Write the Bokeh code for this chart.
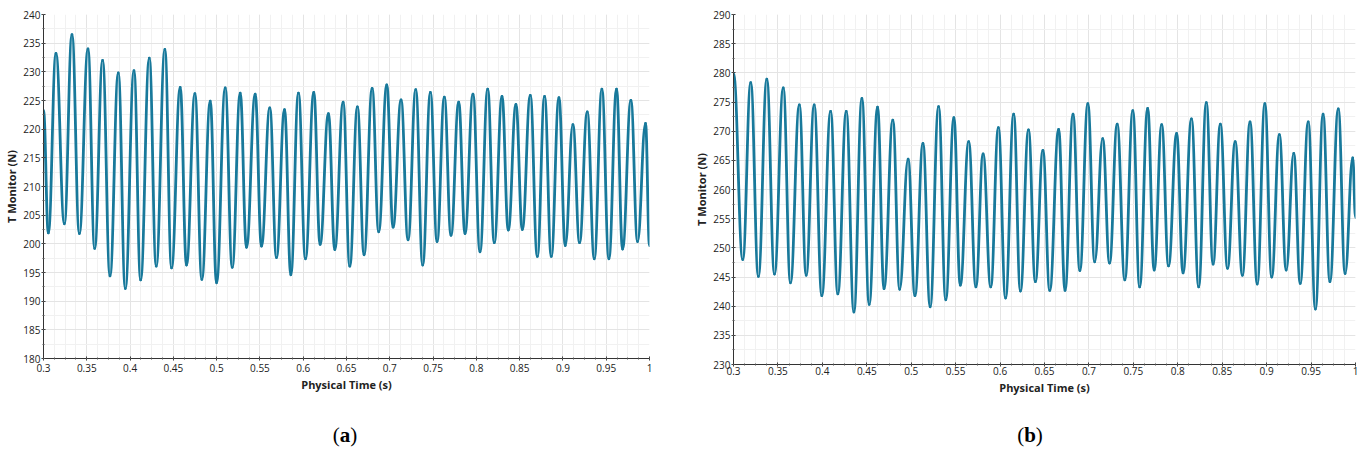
import numpy as np
from bokeh.plotting import figure
from bokeh.models import Range1d, SingleIntervalTicker, NumeralTickFormatter, Div
from bokeh.layouts import column, row
from bokeh.embed import file_html
from bokeh.resources import INLINE

# ---- data: (a) extrema of T Monitor (N) vs Physical Time (s) ----
a_time = [0.300, 0.3056, 0.3144, 0.3241, 0.3329, 0.3414, 0.3514, 0.3591, 0.3683, 0.3768,
          0.3864, 0.3945, 0.4045, 0.4122, 0.4222, 0.4302, 0.4402, 0.4479, 0.4579, 0.4652,
          0.4749, 0.4829, 0.4926, 0.4999, 0.5099, 0.5180, 0.5272, 0.5345, 0.5445, 0.5518,
          0.5614, 0.5691, 0.5784, 0.5857, 0.5945, 0.6026, 0.6122, 0.6195, 0.6291, 0.6365,
          0.6461, 0.6538, 0.6626, 0.6703, 0.6796, 0.6872, 0.6965, 0.7038, 0.7130, 0.7211,
          0.7300, 0.7380, 0.7469, 0.7546, 0.7630, 0.7707, 0.7796, 0.7869, 0.7961, 0.8042,
          0.8131, 0.8207, 0.8296, 0.8369, 0.8457, 0.8531, 0.8623, 0.8704, 0.8788, 0.8865,
          0.8954, 0.9027, 0.9115, 0.9192, 0.9281, 0.9362, 0.9450, 0.9531, 0.9619, 0.9689,
          0.9785, 0.9862, 0.9954, 1.000]
a_force = [223.3, 201.9, 233.2, 203.5, 236.5, 201.8, 234.0, 199.2, 232.0, 194.4,
           229.8, 192.2, 230.2, 193.7, 232.4, 196.1, 233.9, 195.8, 227.3, 196.3,
           226.2, 193.8, 224.9, 193.2, 227.2, 195.9, 226.3, 199.4, 226.1, 199.6,
           223.7, 197.6, 223.4, 194.6, 226.3, 197.4, 226.4, 199.9, 222.7, 199.0,
           224.7, 196.1, 223.9, 198.1, 227.1, 202.1, 227.7, 202.9, 225.1, 200.7,
           226.9, 196.3, 226.4, 200.4, 225.6, 201.5, 224.7, 201.8, 226.1, 198.6,
           227.0, 200.2, 225.7, 202.4, 224.3, 202.5, 225.9, 197.8, 225.7, 197.8,
           225.5, 199.7, 220.8, 200.2, 223.0, 197.4, 227.0, 197.4, 227.0, 199.1,
           225.0, 200.4, 221.0, 199.7]

# ---- data: (b) extrema of T Monitor (N) vs Physical Time (s) ----
b_time = [0.300, 0.3104, 0.3194, 0.3280, 0.3375, 0.3461, 0.3560, 0.3641, 0.3741, 0.3818,
          0.3908, 0.3994, 0.4093, 0.4174, 0.4269, 0.4355, 0.4445, 0.4527, 0.4621, 0.4694,
          0.4793, 0.4870, 0.4965, 0.5042, 0.5132, 0.5213, 0.5308, 0.5389, 0.5480, 0.5552,
          0.5647, 0.5728, 0.5809, 0.5895, 0.5981, 0.6062, 0.6153, 0.6229, 0.6320, 0.6397,
          0.6482, 0.6559, 0.6659, 0.6731, 0.6821, 0.6898, 0.6988, 0.7065, 0.7155, 0.7232,
          0.7318, 0.7404, 0.7494, 0.7571, 0.7661, 0.7734, 0.7819, 0.7896, 0.7987, 0.8059,
          0.8154, 0.8235, 0.8321, 0.8397, 0.8479, 0.8560, 0.8646, 0.8727, 0.8813, 0.8894,
          0.8980, 0.9057, 0.9143, 0.9220, 0.9305, 0.9378, 0.9468, 0.9549, 0.9635, 0.9712,
          0.9806, 0.9883, 0.9969, 1.000]
b_force = [279.9, 248.0, 278.3, 245.1, 278.9, 245.5, 277.4, 244.0, 274.5, 245.3,
           274.5, 241.8, 273.4, 242.1, 273.4, 239.0, 275.6, 240.3, 274.1, 243.0,
           271.9, 242.9, 265.2, 241.8, 267.9, 239.9, 274.2, 241.1, 272.3, 243.6,
           268.2, 243.3, 266.1, 243.3, 270.6, 241.4, 272.9, 242.6, 270.2, 244.2,
           266.7, 242.7, 270.3, 242.7, 272.9, 246.1, 274.7, 247.6, 268.7, 247.4,
           271.2, 244.5, 273.5, 243.3, 273.9, 246.2, 271.1, 246.9, 269.6, 245.7,
           272.1, 243.3, 274.9, 247.2, 271.2, 246.5, 268.2, 245.3, 271.6, 243.8,
           274.7, 245.0, 269.4, 246.2, 266.2, 243.9, 271.6, 239.5, 272.9, 244.2,
           273.8, 245.6, 265.4, 255.2]

x_label = "Physical Time (s)"
y_label = "T Monitor (N)"
captions = ["a", "b"]

LINE_COLOR = "#18799b"
TICK_FONT = "Open Sans"


def make_fig(t, f, ymin, ymax, width, height, bl, br, bt, bb, xstand, xlabstand):
    p = figure(width=width, height=height,
               x_range=Range1d(0.3, 1.0), y_range=Range1d(ymin, ymax),
               output_backend="svg", toolbar_location=None,
               min_border_left=bl, min_border_right=br,
               min_border_top=bt, min_border_bottom=bb)
    p.outline_line_color = None
    p.background_fill_color = "white"
    p.border_fill_color = "white"

    p.xaxis.ticker = SingleIntervalTicker(interval=0.05, num_minor_ticks=4)
    p.yaxis.ticker = SingleIntervalTicker(interval=5, num_minor_ticks=2)
    p.xaxis.formatter = NumeralTickFormatter(format="0.[00]")
    p.yaxis.formatter = NumeralTickFormatter(format="0")

    for ax in (p.xaxis, p.yaxis):
        ax.axis_line_color = "#333333"
        ax.axis_line_width = 1
        ax.major_tick_line_color = "#333333"
        ax.minor_tick_line_color = "#555555"
        ax.major_tick_in = 2
        ax.major_tick_out = 2
        ax.minor_tick_in = 1
        ax.minor_tick_out = 1
        ax.major_label_text_font = TICK_FONT
        ax.major_label_text_font_size = "10px"
        ax.major_label_text_color = "#222222"
        ax.axis_label_text_font = TICK_FONT
        ax.axis_label_text_font_size = "11px"
        ax.axis_label_text_font_style = "bold"
        ax.axis_label_text_color = "#222222"
    p.yaxis.major_label_standoff = 1
    p.yaxis.axis_label_standoff = 1
    p.xaxis.major_label_standoff = xstand
    p.xaxis.axis_label_standoff = xlabstand

    p.xaxis.axis_label = x_label
    p.yaxis.axis_label = y_label

    p.xgrid.grid_line_color = "#e4e4e4"
    p.ygrid.grid_line_color = "#e4e4e4"
    p.xgrid.minor_grid_line_color = "#f1f1f1"
    p.ygrid.minor_grid_line_color = "#f1f1f1"

    t = np.asarray(t, dtype=float)
    f = np.asarray(f, dtype=float)
    x0, x1 = t[:-1], t[1:]
    y0, y1 = f[:-1], f[1:]
    dx = x1 - x0
    k = 0.42
    p.bezier(x0=x0, y0=y0, x1=x1, y1=y1,
             cx0=x0 + k * dx, cy0=y0, cx1=x1 - k * dx, cy1=y1,
             line_color=LINE_COLOR, line_width=2.8, line_cap="round")
    return p


pa = make_fig(a_time, a_force, 180, 240, 690, 400, 43, 41, 14, 42, 3, 2)
pb = make_fig(b_time, b_force, 230, 290, 675, 406, 43, 10, 14, 42, 0, 2)


def caption(letter, width, center, top):
    html = ('<div style="position:absolute; left:%dpx; top:%dpx; width:80px; margin-left:-40px; '
            'text-align:center; font-family:\'Liberation Serif\'; font-size:21px; '
            'line-height:24px; color:#000;">(<b>%s</b>)</div>') % (center, top, letter)
    return Div(text=html, width=width, height=48,
               styles={"position": "relative", "width": "%dpx" % width, "height": "48px"})


da = caption(captions[0], 690, 340, 12)
db = caption(captions[1], 675, 325, 12)

layout = column(row(pa, pb), row(da, db))
open("out.html", "w").write(file_html(layout, INLINE))
